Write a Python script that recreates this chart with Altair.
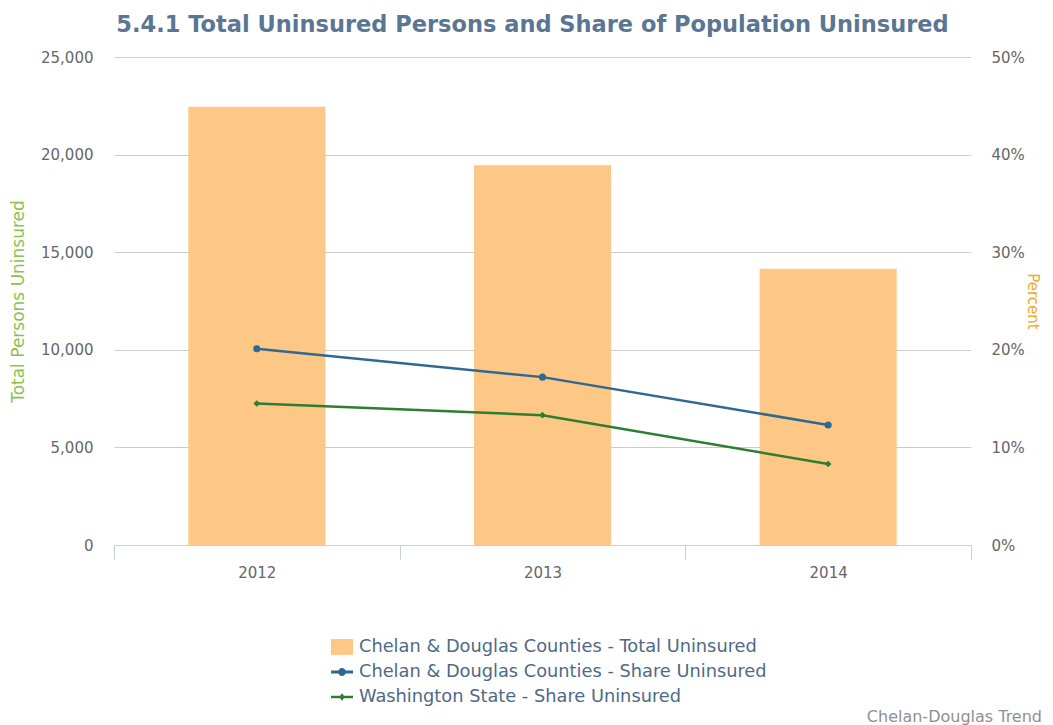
import altair as alt
import pandas as pd

years = ["2012", "2013", "2014"]
total_uninsured = [22450, 19450, 14150]
chelan_share = [20.1, 17.2, 12.3]
wa_share = [14.5, 13.3, 8.3]

series_names = [
    "Chelan & Douglas Counties - Total Uninsured",
    "Chelan & Douglas Counties - Share Uninsured",
    "Washington State - Share Uninsured",
]
series_colors = ["#FDC886", "#2F6890", "#2E7D32"]
legend_shapes = [
    "M-1,-0.72H1V0.72H-1Z",
    "M-1,-0.13H1V0.13H-1Z M-0.36,0A0.36,0.36 0 1,1 0.36,0A0.36,0.36 0 1,1 -0.36,0Z",
    "M-1,-0.12H1V0.12H-1Z M0,-0.34L0.26,0L0,0.34L-0.26,0Z",
]
pct_ticks = [0, 10, 20, 30, 40, 50]
count_ticks = [0, 5000, 10000, 15000, 20000, 25000]

bar_df = pd.DataFrame({"year": years, "series": series_names[0], "total": total_uninsured})
line_df = pd.DataFrame({
    "year": years * 2,
    "series": [series_names[1]] * 3 + [series_names[2]] * 3,
    "share": chelan_share + wa_share,
})
credit_df = pd.DataFrame({"credit": ["Chelan-Douglas Trend"]})

FONT = "DejaVu Sans"

color_scale = alt.Scale(domain=series_names, range=series_colors)
shape_scale = alt.Scale(domain=series_names, range=legend_shapes)

legend = alt.Legend(
    title=None, orient="none", legendX=217, legendY=579, direction="vertical",
    symbolSize=484, labelFontSize=17.8, labelFont=FONT, labelColor="#4E6A86",
    labelOffset=6, rowPadding=5, padding=0, symbolStrokeWidth=0, labelLimit=600,
)

x_enc = alt.X(
    "year:N", title=None,
    scale=alt.Scale(paddingInner=0, paddingOuter=0),
    axis=alt.Axis(labelAngle=0, domainColor="#C0D0E0", tickColor="#C0D0E0",
                  tickSize=14, tickBand="extent", labelFont=FONT, labelFontSize=15,
                  labelColor="#666666", labelPadding=6, grid=False),
)

pct_axis = alt.Axis(title="Percent", orient="right", values=pct_ticks,
                    labelExpr="datum.value + '%'", domain=False, ticks=False,
                    labelPadding=20, labelFont=FONT, labelFontSize=15,
                    labelColor="#666666", titleFont=FONT, titleFontSize=15,
                    titleFontWeight="normal", titleColor="#F0A830",
                    titlePadding=0, grid=False)
pct_scale = alt.Scale(domain=[0, 50])

bars = alt.Chart(bar_df).mark_bar(width=alt.RelativeBandSize(0.48)).encode(
    x=x_enc,
    y=alt.Y("total:Q", scale=alt.Scale(domain=[0, 25000]),
            axis=alt.Axis(title="Total Persons Uninsured", orient="left", values=count_ticks,
                          format=",d", domain=False, ticks=False, labelPadding=21,
                          labelFont=FONT, labelFontSize=15, labelColor="#666666",
                          titleFont=FONT, titleFontSize=17, titleFontWeight="normal",
                          titleColor="#8CC152", titlePadding=13,
                          grid=True, gridColor="#CCCCCC")),
    color=alt.Color("series:N", scale=color_scale, legend=legend),
)

lines = alt.Chart(line_df).mark_line(strokeWidth=2.5).encode(
    x=alt.X("year:N"),
    y=alt.Y("share:Q", scale=pct_scale, axis=pct_axis),
    color=alt.Color("series:N", scale=color_scale, legend=legend),
)

pts_c = alt.Chart(line_df).transform_filter(
    alt.datum.series == series_names[1]
).mark_point(filled=True, shape="circle", size=50, opacity=1).encode(
    x=alt.X("year:N"),
    y=alt.Y("share:Q", scale=pct_scale, axis=pct_axis),
    color=alt.Color("series:N", scale=color_scale, legend=legend),
)
pts_w = alt.Chart(line_df).transform_filter(
    alt.datum.series == series_names[2]
).mark_point(filled=True, shape="diamond", size=45, opacity=1).encode(
    x=alt.X("year:N"),
    y=alt.Y("share:Q", scale=pct_scale, axis=pct_axis),
    color=alt.Color("series:N", scale=color_scale, legend=legend),
)
legend_layer = alt.Chart(line_df).transform_filter("false").mark_point(
    filled=True, opacity=1
).encode(
    color=alt.Color("series:N", scale=color_scale, legend=legend),
    shape=alt.Shape("series:N", scale=shape_scale, legend=legend),
)

right = alt.layer(lines, pts_c, pts_w, legend_layer)

credit = alt.Chart(credit_df).mark_text(
    align="right", baseline="middle", font=FONT, fontSize=16, color="#909090"
).encode(x=alt.value(928), y=alt.value(660), text="credit:N")

chart = alt.layer(bars, right, credit).resolve_scale(y="independent").properties(
    width=857, height=488,
    padding={"left": 1, "top": 5, "right": 0, "bottom": 0},
    title=alt.Title(
        "5.4.1 Total Uninsured Persons and Share of Population Uninsured",
        font=FONT, fontSize=22.5, fontWeight="bold",
        color="#5A7693", anchor="middle", offset=14, dx=-10,
    ),
).configure_view(stroke=None)

chart.save("out.html", embed_options={"renderer": "svg", "actions": False})
